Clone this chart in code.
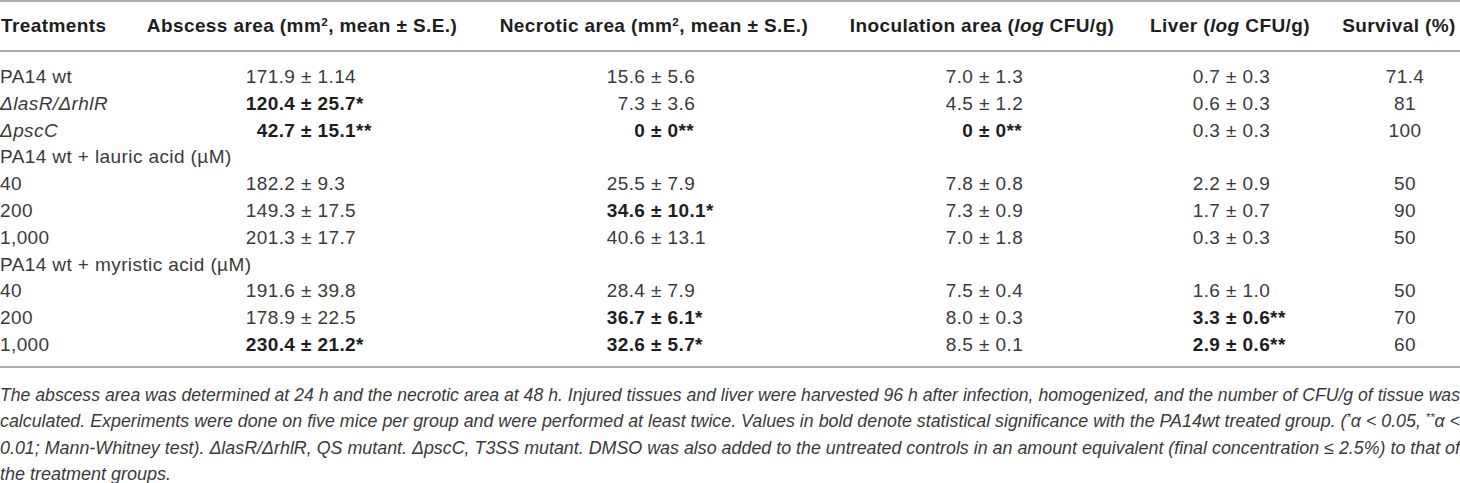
<!DOCTYPE html>
<html><head><meta charset="utf-8">
<script src="https://cdn.jsdelivr.net/npm/chart.js@4.4.1/dist/chart.umd.min.js"></script>
<style>
html,body{margin:0;padding:0;background:#fff;}
#page{position:relative;width:1460px;height:483px;overflow:hidden;font-family:"Liberation Sans",Arial,Helvetica,sans-serif;color:#3a3a3a;}
.t{position:absolute;white-space:pre;font-size:19px;letter-spacing:0.4px;line-height:26px;height:26px;}
.h{font-weight:bold;color:#1e1e1e;}
.b{font-weight:bold;color:#1e1e1e;}
.ctr{transform:translateX(-50%);}
.lp{position:absolute;right:100%;top:0;white-space:pre;}
.rule{position:absolute;left:0;width:1460px;height:2px;background:#ababab;}
.fn{position:absolute;left:0;width:1460px;font-size:18px;font-style:italic;line-height:26px;height:26px;color:#3a3a3a;white-space:nowrap;}
sup{font-size:0.62em;line-height:0;vertical-align:0.55em;}
</style></head><body>
<div id="page"></div>
<script>
// ---- data ----
const headers = ["Treatments", "Abscess area (mm<sup>2</sup>, mean ± S.E.)", "Necrotic area (mm<sup>2</sup>, mean ± S.E.)", "Inoculation area (<i>log</i> CFU/g)", "Liver (<i>log</i> CFU/g)", "Survival (%)"];
const treatments = ["PA14 wt", "<i>ΔlasR/ΔrhlR</i>", "<i>ΔpscC</i>", "PA14 wt + lauric acid (µM)", "40", "200", "1,000", "PA14 wt + myristic acid (µM)", "40", "200", "1,000"];
const abscessArea = ["171.9 ± 1.14", "120.4 ± 25.7*", "42.7 ± 15.1**", "", "182.2 ± 9.3", "149.3 ± 17.5", "201.3 ± 17.7", "", "191.6 ± 39.8", "178.9 ± 22.5", "230.4 ± 21.2*"];
const necroticArea = ["15.6 ± 5.6", "7.3 ± 3.6", "0 ± 0**", "", "25.5 ± 7.9", "34.6 ± 10.1*", "40.6 ± 13.1", "", "28.4 ± 7.9", "36.7 ± 6.1*", "32.6 ± 5.7*"];
const inoculationArea = ["7.0 ± 1.3", "4.5 ± 1.2", "0 ± 0**", "", "7.8 ± 0.8", "7.3 ± 0.9", "7.0 ± 1.8", "", "7.5 ± 0.4", "8.0 ± 0.3", "8.5 ± 0.1"];
const liver = ["0.7 ± 0.3", "0.6 ± 0.3", "0.3 ± 0.3", "", "2.2 ± 0.9", "1.7 ± 0.7", "0.3 ± 0.3", "", "1.6 ± 1.0", "3.3 ± 0.6**", "2.9 ± 0.6**"];
const survival = ["71.4", "81", "100", "", "50", "90", "50", "", "50", "70", "60"];
const footnote = [
  "The abscess area was determined at 24 h and the necrotic area at 48 h. Injured tissues and liver were harvested 96 h after infection, homogenized, and the number of CFU/g of tissue was",
  "calculated. Experiments were done on five mice per group and were performed at least twice. Values in bold denote statistical significance with the PA14wt treated group. (<sup>*</sup>α &lt; 0.05, <sup>**</sup>α &lt;",
  "0.01; Mann-Whitney test). ΔlasR/ΔrhlR, QS mutant. ΔpscC, T3SS mutant. DMSO was also added to the untreated controls in an amount equivalent (final concentration ≤ 2.5%) to that of",
  "the treatment groups."
];

// ---- layout ----
const page = document.getElementById('page');
const headerCenters = [null, 302, 654, 982, 1230, 1399];
const pmAnchors = [301, 651, 979, 1226];
const survivalCenter = 1405;
const headerY = 26, row0Y = 77, rowStep = 26.8;
const rules = [0, 50, 366];
const fnY0 = 394.5, fnStep = 26.5;

function el(cls, html, left, cy) {
  const d = document.createElement('div');
  d.className = cls; d.innerHTML = html;
  d.style.left = left + 'px'; d.style.top = (cy - 13) + 'px';
  page.appendChild(d); return d;
}
rules.forEach(y => { const r = document.createElement('div'); r.className = 'rule'; r.style.top = y + 'px'; page.appendChild(r); });

headers.forEach((h, i) => {
  if (i === 0) el('t h', h, 1, headerY);
  else el('t h ctr', h, headerCenters[i], headerY);
});
treatments.forEach((t, i) => el('t', t, 0, row0Y + i * rowStep));

[abscessArea, necroticArea, inoculationArea, liver].forEach((col, c) => {
  col.forEach((v, i) => {
    if (!v) return;
    const k = v.indexOf('±');
    const left = v.slice(0, k), right = v.slice(k);
    const d = el('t' + (v.includes('*') ? ' b' : ''), '', pmAnchors[c], row0Y + i * rowStep);
    d.textContent = right;
    const s = document.createElement('span'); s.className = 'lp'; s.textContent = left; d.appendChild(s);
  });
});
survival.forEach((v, i) => { if (v) el('t ctr', v, survivalCenter, row0Y + i * rowStep); });

footnote.forEach((f, i) => {
  const d = document.createElement('div'); d.className = 'fn';
  d.style.top = (fnY0 + i * fnStep - 13) + 'px';
  const s = document.createElement('span'); s.innerHTML = f; d.appendChild(s);
  page.appendChild(d);
  if (i < footnote.length - 1) {
    const w = s.getBoundingClientRect().width;
    if (w > 1460) { s.style.display = 'inline-block'; s.style.transformOrigin = '0 0'; s.style.transform = 'scaleX(' + (1460 / w) + ')'; }
    else {
      const words = f.split(' ').length - 1;
      s.style.wordSpacing = ((1460 - w) / Math.max(1, words)) + 'px';
    }
  }
});
</script>
</body></html>
